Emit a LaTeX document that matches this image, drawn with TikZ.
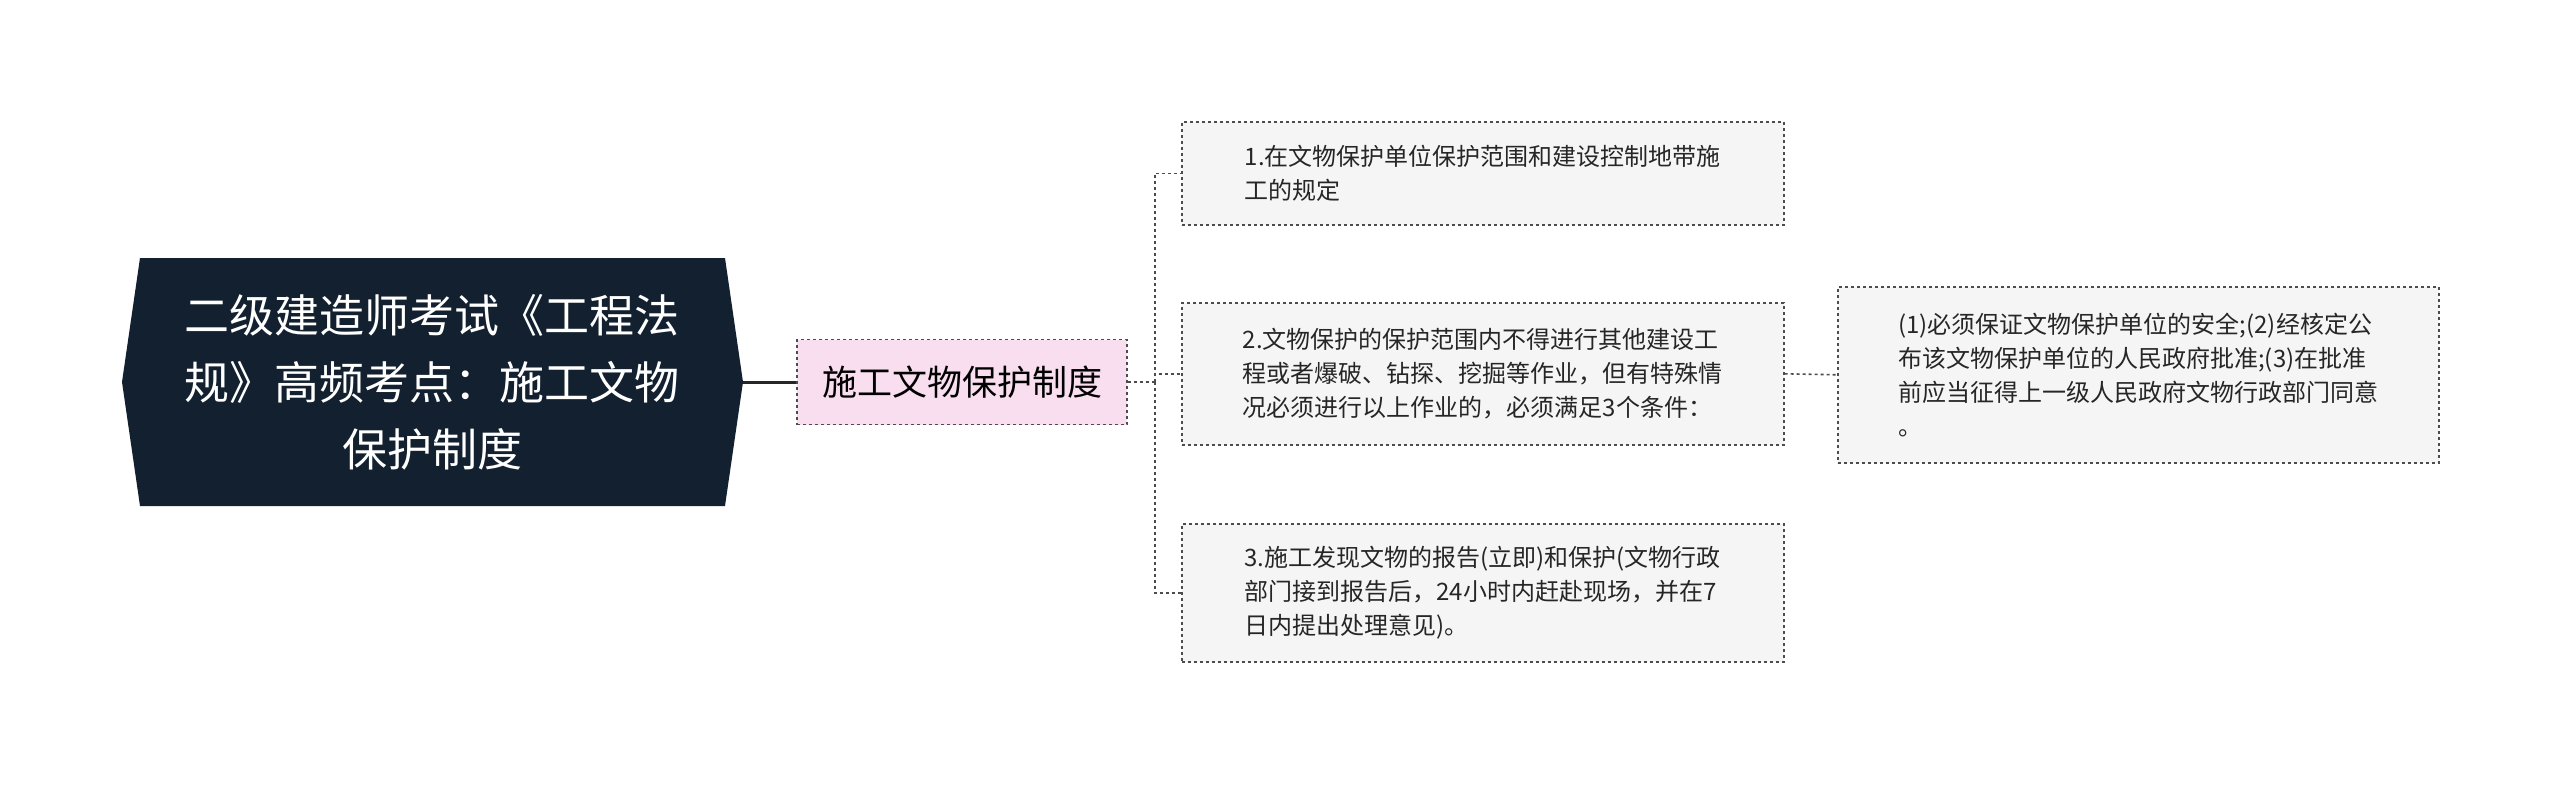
\documentclass[tikz,border=0pt]{standalone}
\usepackage{fontspec}
\setmainfont{Noto Sans CJK SC}
\begin{document}
\begin{tikzpicture}[x=1pt,y=-1pt,
  leaf/.style={draw=black!70,dashed,line width=1.6pt,fill=black!4,align=left,inner xsep=14pt,font=\fontsize{24}{34}\selectfont,anchor=north west,text=black!85},
  con/.style={draw=black!70,dashed,line width=1.6pt}]
\useasboundingbox (0,0) rectangle (2560,785);
\fill[white] (0,0) rectangle (2560,785);
\coordinate (r) at (743,382);
\fill[fill={rgb,255:red,19;green,32;blue,47}] (122,382) -- (140,258) -- (725,258) -- (743,382) -- (725,506) -- (140,506) -- cycle;
\node[text=white,align=center,font=\fontsize{45}{67}\selectfont] (root) at (432,382) {二级建造师考试《工程法\\规》高频考点：施工文物\\保护制度};
\node[draw=black!70,dashed,line width=1.6pt,fill={rgb,255:red,249;green,222;blue,240},minimum width=330pt,minimum height=85pt,font=\fontsize{35}{40}\selectfont] (l1) at (962,382) {施工文物保护制度};
\node[leaf,minimum width=602pt,minimum height=103pt] (b1) at (1181,121) {1.在文物保护单位保护范围和建设控制地带施\\工的规定};
\node[leaf,minimum width=602pt,minimum height=142pt] (b2) at (1181,302) {2.文物保护的保护范围内不得进行其他建设工\\程或者爆破、钻探、挖掘等作业，但有特殊情\\况必须进行以上作业的，必须满足3个条件：};
\node[leaf,minimum width=602pt,minimum height=138pt] (b3) at (1181,523) {3.施工发现文物的报告(立即)和保护(文物行政\\部门接到报告后，24小时内赶赴现场，并在7\\日内提出处理意见)。};
\node[leaf,minimum width=601pt,minimum height=176pt] (b4) at (1837,286) {(1)必须保证文物保护单位的安全;(2)经核定公\\布该文物保护单位的人民政府批准;(3)在批准\\前应当征得上一级人民政府文物行政部门同意\\。};
\draw[line width=3pt,black!85] (r) -- (l1.west);
\coordinate (e) at (1155,382);
\draw[con] (l1.east) -- (e);
\draw[con] (e) |- (b1.west);
\draw[con] (e) |- (b2.west);
\draw[con] (e) |- (b3.west);
\draw[con] (b2.east) -- (b4.west);
\end{tikzpicture}
\end{document}
